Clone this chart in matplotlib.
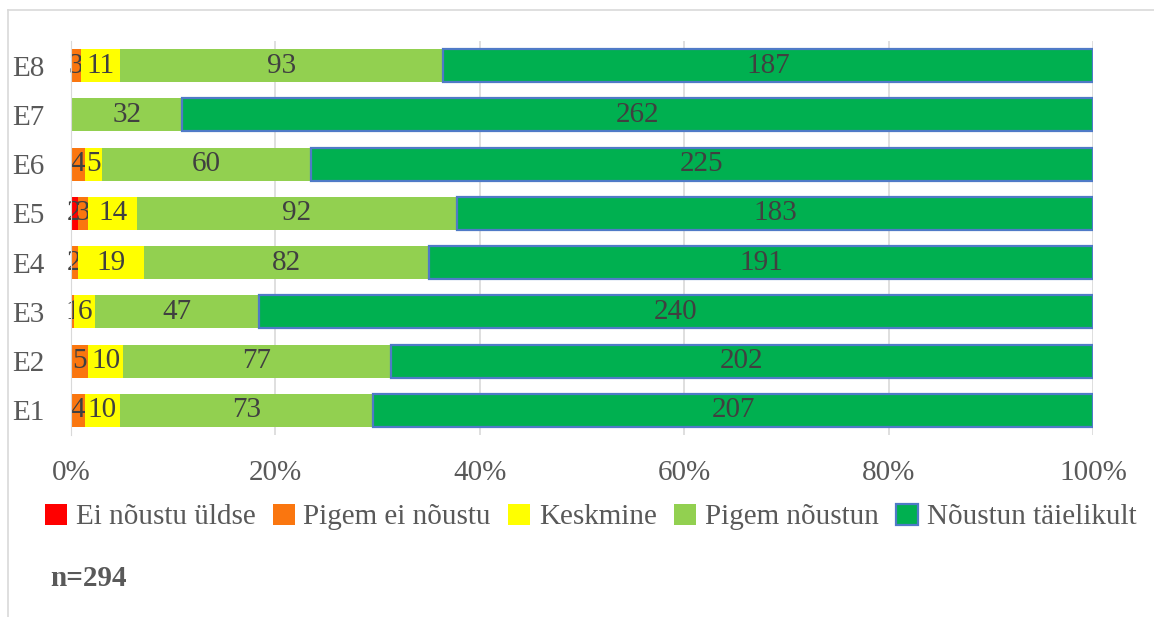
import numpy as np
import matplotlib.pyplot as plt
from matplotlib.lines import Line2D

plt.rcParams['font.family'] = ['Liberation Serif', 'DejaVu Serif']

kategooriad = ["E1", "E2", "E3", "E4", "E5", "E6", "E7", "E8"]
seeriad = ["Ei nõustu üldse", "Pigem ei nõustu", "Keskmine", "Pigem nõustun", "Nõustun täielikult"]
ei_noustu = [0, 0, 0, 0, 2, 0, 0, 0]
pigem_ei = [4, 5, 1, 2, 3, 4, 0, 3]
keskmine = [10, 10, 6, 19, 14, 5, 0, 11]
pigem_jah = [73, 77, 47, 82, 92, 60, 32, 93]
taielikult = [207, 202, 240, 191, 183, 225, 262, 187]
varvid = ["#FF0000", "#FA760F", "#FFFF00", "#92D050", "#00B050"]
n_vastajaid = 294

W, H = 1154, 617
fig = plt.figure(figsize=(W / 100, H / 100), dpi=100)

# raam ümber joonise
fig.add_artist(Line2D([8 / W, 1], [1 - 10 / H, 1 - 10 / H], color="#D9D9D9", lw=1.2))
fig.add_artist(Line2D([8 / W, 8 / W], [0, 1 - 10 / H], color="#D9D9D9", lw=1.2))

ax = fig.add_axes([71 / W, 1 - 435 / H, (1093 - 71) / W, (435 - 41) / H])

andmed = np.array([ei_noustu, pigem_ei, keskmine, pigem_jah, taielikult], dtype=float)
summa = andmed.sum(axis=0)
protsendid = andmed / summa
y = np.arange(len(kategooriad))
vasak = np.zeros(len(kategooriad))

for i, nimi in enumerate(seeriad):
    if i == 4:
        rib = ax.barh(y, protsendid[i], left=vasak, height=0.67, color=varvid[i],
                      edgecolor="#4F7AC7", linewidth=1.6, label=nimi, zorder=3)
    else:
        rib = ax.barh(y, protsendid[i], left=vasak, height=0.67, color=varvid[i],
                      linewidth=0, label=nimi, zorder=3)
    sildid = [f"{int(v)}" if v > 0 else "" for v in andmed[i]]
    ax.bar_label(rib, labels=sildid, label_type="center", fontsize=21, color="#404040")
    vasak += protsendid[i]

ax.set_xlim(0, 1)
ax.set_ylim(-0.5, len(kategooriad) - 0.5)
ax.set_yticks(y)
ax.set_yticklabels(kategooriad)
ax.set_xticks(np.linspace(0, 1, 6))
ax.set_xticklabels([f"{int(t * 100)}%" for t in np.linspace(0, 1, 6)])
ax.tick_params(axis="both", length=0, labelsize=21, labelcolor="#595959")
ax.tick_params(axis="x", pad=18)
ax.tick_params(axis="y", pad=19)
for s in ["top", "right", "bottom"]:
    ax.spines[s].set_visible(False)
ax.spines["left"].set_color("#D9D9D9")
ax.spines["left"].set_zorder(4)
ax.xaxis.grid(True, color="#D9D9D9", lw=1.2, zorder=0)
ax.set_axisbelow(True)

leg = fig.legend(loc="center", bbox_to_anchor=(0.512, 1 - 517 / H), ncol=5, frameon=False,
                 fontsize=21, handlelength=0.75, handleheight=0.75, handletextpad=0.3,
                 columnspacing=0.6, labelcolor="#595959")

fig.text(50 / W, 1 - 578 / H, f"n={n_vastajaid}", fontsize=21, fontweight="bold",
         color="#595959", va="center", ha="left")

fig.savefig("out.png", dpi=100)
